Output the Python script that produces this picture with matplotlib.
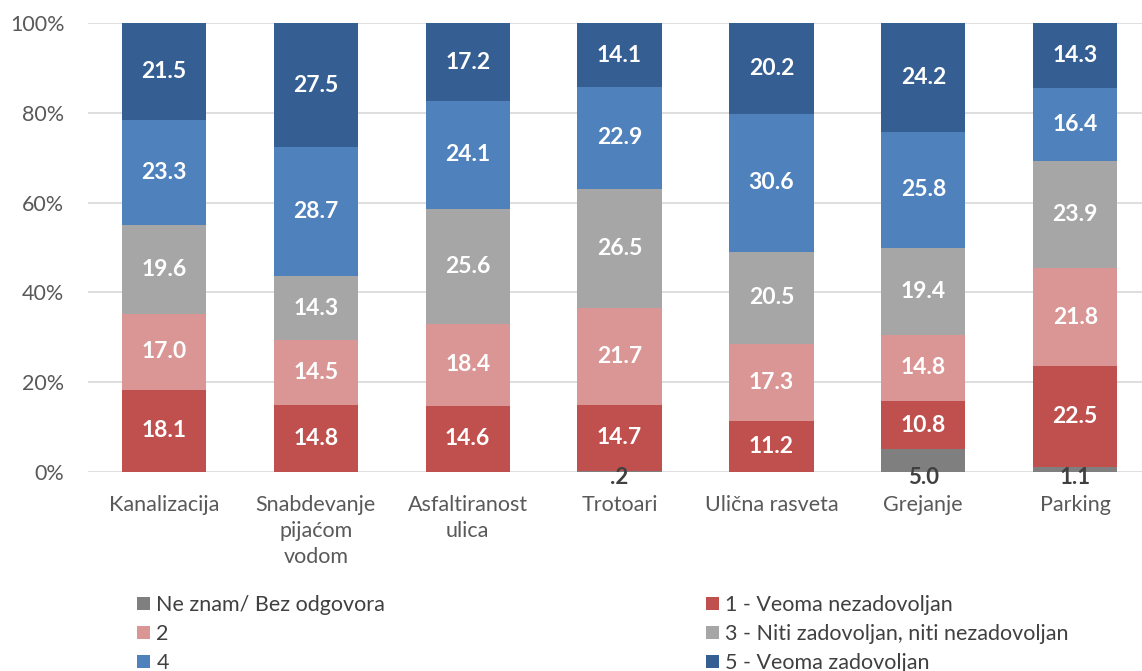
import matplotlib
matplotlib.use("Agg")
import matplotlib.pyplot as plt
import numpy as np

plt.rcParams['font.family'] = ['Lato', 'DejaVu Sans']

categories = ["Kanalizacija", "Snabdevanje\npijaćom\nvodom", "Asfaltiranost\nulica",
              "Trotoari", "Ulična rasveta", "Grejanje", "Parking"]
series_names = ["Ne znam/ Bez odgovora", "1 - Veoma nezadovoljan", "2",
                "3 - Niti zadovoljan, niti nezadovoljan", "4", "5 - Veoma zadovoljan"]
ne_znam = [0.0, 0.0, 0.0, 0.2, 0.0, 5.0, 1.1]
ocena_1 = [18.1, 14.8, 14.6, 14.7, 11.2, 10.8, 22.5]
ocena_2 = [17.0, 14.5, 18.4, 21.7, 17.3, 14.8, 21.8]
ocena_3 = [19.6, 14.3, 25.6, 26.5, 20.5, 19.4, 23.9]
ocena_4 = [23.3, 28.7, 24.1, 22.9, 30.6, 25.8, 16.4]
ocena_5 = [21.5, 27.5, 17.2, 14.1, 20.2, 24.2, 14.3]
colors = ["#7f7f7f", "#c0504d", "#da9694", "#a6a6a6", "#4f81bd", "#355f93"]

data = np.array([ne_znam, ocena_1, ocena_2, ocena_3, ocena_4, ocena_5])
totals = data.sum(axis=0)
pct = data / totals * 100

fig = plt.figure(figsize=(11.42, 6.71), dpi=100)
ax = fig.add_axes([0.077, 0.297, 0.931, 0.668])
x = np.arange(len(categories))
bottom = np.zeros(len(categories))
handles = []
for i in range(len(series_names)):
    b = ax.bar(x, pct[i], 0.555, bottom=bottom, color=colors[i], label=series_names[i], zorder=3)
    handles.append(b)
    for j in range(len(categories)):
        v = data[i, j]
        if v <= 0:
            continue
        if i == 0:
            txt = ("%.1f" % v).lstrip("0") if v < 1 else "%.1f" % v
            ax.text(x[j], -1.3, txt, ha='center', va='center', fontsize=16,
                    fontweight='bold', color='#404040', zorder=4)
        else:
            ax.text(x[j], bottom[j] + pct[i, j] / 2, "%.1f" % v, ha='center', va='center',
                    fontsize=16.5, fontweight='bold', color='white', zorder=4)
    bottom += pct[i]

ax.set_xlim(-0.5, len(categories) - 0.5)
ax.set_ylim(0, 100)
ax.set_yticks(np.arange(0, 101, 20))
ax.set_yticklabels(["%d%%" % v for v in range(0, 101, 20)])
ax.yaxis.grid(True, color='#d9d9d9', linewidth=1.2, zorder=0)
ax.set_xticks(x)
ax.set_xticklabels(categories, linespacing=1.35)
ax.tick_params(axis='both', length=0, labelsize=15.5, labelcolor='#595959')
ax.tick_params(axis='x', pad=17)
ax.tick_params(axis='y', pad=17)
for s in ax.spines.values():
    s.set_visible(False)

order = [0, 2, 4, 1, 3, 5]
fig.legend([handles[k] for k in order], [series_names[k] for k in order],
           loc='lower left', bbox_to_anchor=(0.103, -0.032), ncol=2, frameon=False,
           fontsize=15.5, handlelength=0.6, handleheight=0.6, handletextpad=0.3,
           columnspacing=14.9, labelspacing=0.42, labelcolor='#404040')

fig.savefig("out.png", dpi=100)
